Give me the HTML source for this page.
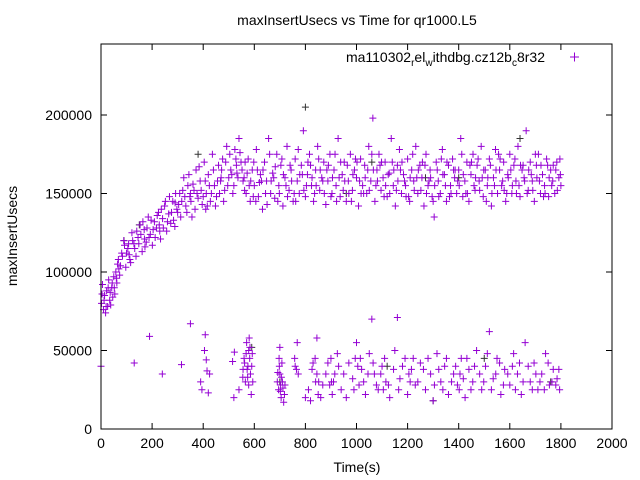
<!DOCTYPE html>
<html><head><meta charset="utf-8"><style>
body{margin:0;background:#fff}
svg{font-family:"Liberation Sans",sans-serif;display:block}
</style></head><body>
<svg id="chart" width="640" height="480">
<text x="357" y="25" font-size="14" text-anchor="middle">maxInsertUsecs vs Time for qr1000.L5</text>
<text x="357" y="472" font-size="14" text-anchor="middle">Time(s)</text>
<text x="17" y="236" font-size="14" text-anchor="middle" transform="rotate(-90 17 236)">maxInsertUsecs</text>
<g id="axes"></g>
<g id="marks"></g>
<g>
<text x="545" y="62" font-size="14" text-anchor="end">ma110302<tspan font-size="10" dy="4">r</tspan><tspan dy="-4">el</tspan><tspan font-size="10" dy="4">w</tspan><tspan dy="-4">ithdbg.cz12b</tspan><tspan font-size="10" dy="4">c</tspan><tspan dy="-4">8r32</tspan></text>
<path d="M570 57h9M574.5 52.5v9" stroke="#9400d3" stroke-width="1"/>
</g>
<rect x="101" y="44" width="511" height="385" fill="none" stroke="#000" stroke-width="1"/>
</svg>
<script>
const xTicks=[0,200,400,600,800,1000,1200,1400,1600,1800,2000];
const yTicks=[0,50000,100000,150000,200000];
const rampPts=[[2,80],[6,92],[10,76],[14,85],[18,74],[22,88],[26,78],[30,95],[34,82],[38,79],[42,90],[46,84],[50,97],[54,86],[58,100],[62,93],[65,105],[73,98],[81,112],[89,120],[97,103],[105,115],[113,108],[121,125],[129,118],[137,110],[145,122],[153,130],[161,113],[169,127],[177,119],[185,135],[193,124],[201,117],[209,132],[217,128],[225,138],[233,121],[241,134],[249,142],[257,126],[265,137],[273,131],[281,145],[289,129],[297,140],[300,138],[308,150],[316,145],[324,160],[332,142],[340,155],[348,148],[356,135],[364,152],[372,165],[380,147],[388,158],[396,143],[404,170],[412,150],[420,162],[428,145],[436,175],[444,155],[452,148],[460,168],[468,158],[476,172],[484,152],[492,180],[500,160],[508,165],[516,150],[524,178],[532,163],[540,185],[548,170],[556,158],[70,102],[110,111],[170,121],[230,126],[290,144],[350,150],[410,140],[470,160],[530,168]];
const ramp2Pts=[[4,86],[12,82],[20,78],[28,90],[36,87],[44,93],[52,90],[60,96],[68,108],[76,104],[84,110],[92,117],[100,112],[108,118],[116,106],[124,120],[132,115],[140,126],[148,118],[156,124],[164,132],[172,116],[180,128],[188,122],[196,133],[204,127],[212,122],[220,136],[228,130],[236,140],[244,128],[252,145],[260,132],[268,148],[276,138],[284,133],[292,150],[304,143],[312,135],[320,152],[328,148],[336,138],[344,162],[352,145],[360,156],[368,140],[376,150],[384,167],[392,152],[400,148],[408,158],[416,142],[424,155],[432,150],[440,165],[448,142],[456,158],[464,150],[472,165],[480,145],[488,170],[496,155],[504,175],[512,162],[520,155],[528,172],[536,160],[544,176],[552,165]];
const bandPts=[[560,160],[568,150],[576,172],[584,145],[592,165],[600,155],[608,178],[616,148],[624,162],[632,140],[640,170],[648,158],[656,185],[664,150],[672,163],[680,147],[688,175],[696,155],[704,168],[712,142],[720,160],[728,180],[736,152],[744,165],[752,145],[760,172],[768,158],[776,150],[784,168],[792,190],[800,148],[808,162],[816,175],[824,155],[832,145],[840,165],[848,180],[856,152],[864,160],[872,170],[880,143],[888,158],[896,175],[904,150],[912,165],[920,155],[928,185],[936,148],[944,162],[952,170],[960,145],[968,158],[976,175],[984,152],[992,165],[1000,160],[1008,142],[1016,172],[1024,155],[1032,168],[1040,150],[1048,180],[1056,158],[1064,198],[1072,145],[1080,165],[1088,175],[1096,152],[1104,160],[1112,170],[1120,148],[1128,163],[1136,185],[1144,155],[1152,142],[1160,168],[1168,178],[1176,150],[1184,162],[1192,155],[1200,172],[1208,145],[1216,165],[1224,158],[1232,180],[1240,150],[1248,168],[1256,160],[1264,142],[1272,175],[1280,155],[1288,165],[1296,148],[1304,135],[1312,170],[1320,158],[1328,150],[1336,178],[1344,162],[1352,145],[1360,168],[1368,155],[1376,172],[1384,160],[1392,150],[1400,165],[1408,185],[1416,148],[1424,158],[1432,170],[1440,145],[1448,162],[1456,175],[1464,152],[1472,168],[1480,158],[1488,180],[1496,148],[1504,165],[1512,155],[1520,172],[1528,142],[1536,160],[1544,178],[1552,150],[1560,165],[1568,155],[1576,170],[1584,145],[1592,162],[1600,175],[1608,150],[1616,168],[1624,158],[1632,180],[1640,148],[1648,165],[1656,160],[1664,190],[1672,152],[1680,170],[1688,158],[1696,145],[1704,168],[1712,175],[1720,150],[1728,162],[1736,155],[1744,172],[1752,148],[1760,165],[1768,158],[1776,150],[1784,170],[1792,160],[1800,155]];
const band2Pts=[[564,170],[580,155],[596,148],[612,165],[628,158],[644,150],[660,175],[676,160],[692,145],[708,172],[724,155],[740,168],[756,150],[772,178],[788,162],[804,155],[820,168],[836,150],[852,172],[868,158],[884,165],[900,148],[916,175],[932,160],[948,152],[964,168],[980,145],[996,172],[1012,158],[1028,150],[1044,165],[1060,175],[1076,155],[1092,168],[1108,148],[1124,162],[1140,170],[1156,152],[1172,165],[1188,158],[1204,148],[1220,175],[1236,160],[1252,152],[1268,168],[1284,158],[1300,145],[1316,165],[1332,172],[1348,155],[1364,148],[1380,165],[1396,158],[1412,175],[1428,150],[1444,168],[1460,155],[1476,172],[1492,160],[1508,145],[1524,168],[1540,155],[1556,175],[1572,158],[1588,150],[1604,165],[1620,172],[1636,155],[1652,168],[1668,150],[1684,162],[1700,175],[1716,158],[1732,148],[1748,168],[1764,155],[1780,165],[1796,172]];
const band3Pts=[[562,152],[572,163],[586,158],[598,170],[606,145],[620,157],[634,165],[650,143],[666,158],[682,167],[698,150],[714,162],[730,148],[746,158],[762,145],[778,162],[794,152],[810,170],[826,160],[842,155],[858,165],[874,150],[890,168],[906,160],[922,145],[938,170],[954,158],[970,150],[986,162],[1002,170],[1018,150],[1034,160],[1050,152],[1066,165],[1082,158],[1098,170],[1114,155],[1130,150],[1146,165],[1162,158],[1178,170],[1194,148],[1210,160],[1226,152],[1242,165],[1258,170],[1274,150],[1290,160],[1306,155],[1322,148],[1338,162],[1354,170],[1370,150],[1386,165],[1402,155],[1418,162],[1434,150],[1450,170],[1466,160],[1482,152],[1498,165],[1514,160],[1530,150],[1546,165],[1562,172],[1578,152],[1594,160],[1610,155],[1626,150],[1642,168],[1658,158],[1674,165],[1690,152],[1706,160],[1722,168],[1738,150],[1754,160],[1770,168],[1786,152],[1798,162]];
const lowPts=[[0,40],[130,42],[190,59],[240,35],[315,41],[350,67],[390,30],[395,25],[405,50],[408,60],[412,44],[415,37],[420,23],[425,35],[515,43],[520,20],[522,49],[540,25],[555,33],[560,45],[565,30],[570,55],[575,40],[580,58],[585,35],[588,22],[592,48],[690,30],[695,25],[700,35],[705,20],[710,30],[715,17],[700,52],[708,42],[720,28],[760,40],[765,38],[768,55],[800,20],[820,18],[830,42],[840,30],[845,58],[850,22],[860,20],[880,35],[895,28],[900,45],[905,22],[915,35],[930,40],[940,25],[960,20],[985,32],[995,45],[1000,55],[1010,28],[1020,38],[1035,22],[1050,48],[1060,70],[1070,35],[1085,25],[1100,40],[1115,30],[1130,20],[1150,50],[1160,71],[1170,32],[1190,45],[1200,22],[1215,38],[1230,28],[1250,42],[1270,25],[1290,35],[1300,18],[1315,48],[1330,30],[1345,40],[1360,22],[1380,35],[1395,28],[1410,45],[1425,20],[1440,38],[1455,30],[1470,50],[1490,25],[1505,40],[1520,62],[1535,32],[1550,45],[1565,22],[1580,38],[1600,28],[1615,48],[1630,35],[1645,22],[1660,55],[1680,30],[1695,42],[1710,25],[1725,35],[1740,48],[1755,28],[1770,38],[1785,32],[1795,25],[578,50],[582,45],[572,38],[698,40],[703,28],[845,35],[902,30],[1005,40],[1105,25],[1210,30],[1405,35],[1610,40]];
const low2Pts=[[556,38],[562,42],[568,48],[574,33],[578,28],[583,52],[590,40],[594,30],[692,36],[697,45],[702,24],[706,33],[712,26],[718,22],[758,45],[772,35],[812,25],[826,38],[838,45],[852,30],[868,28],[888,42],[910,30],[925,48],[950,35],[970,42],[990,25],[1015,45],[1028,30],[1045,35],[1065,42],[1078,28],[1095,35],[1110,45],[1125,28],[1145,38],[1165,25],[1180,40],[1205,35],[1222,45],[1240,30],[1262,38],[1280,45],[1305,28],[1322,38],[1338,25],[1352,45],[1372,30],[1388,40],[1402,25],[1418,32],[1432,45],[1448,25],[1462,40],[1482,35],[1498,30],[1512,48],[1528,25],[1545,35],[1560,42],[1575,28],[1592,35],[1622,25],[1638,42],[1652,30],[1672,40],[1688,25],[1702,35],[1718,30],[1735,25],[1750,42],[1765,30],[1780,28],[1792,38]];
const darkPts=[[90,120],[150,130],[380,175],[800,205],[1060,170],[1270,160],[1640,185],[1300,18],[1120,40],[590,52],[700,30],[1500,45],[1760,30],[1400,160],[960,150]];
const X0=101,X1=612,Y0=429,Yper=314/200000;
function sx(t){return X0+(X1-X0)*t/2000;}
function sy(v){return Y0-v*Yper;}
const NS='http://www.w3.org/2000/svg';
const axes=document.getElementById('axes'),marks=document.getElementById('marks');
xTicks.forEach(t=>{const x=sx(t);
 const p=document.createElementNS(NS,'path');p.setAttribute('d',`M${x} 429v-6M${x} 44v6`);p.setAttribute('stroke','#000');
 
 
 axes.appendChild(p);
 const tx=document.createElementNS(NS,'text');tx.setAttribute('x',x);tx.setAttribute('y',448);tx.setAttribute('font-size','14');tx.setAttribute('text-anchor','middle');tx.textContent=t;
 
 
 axes.appendChild(tx);});
yTicks.forEach(v=>{const y=sy(v);
 const p=document.createElementNS(NS,'path');p.setAttribute('d',`M101 ${y}h6M612 ${y}h-6`);p.setAttribute('stroke','#000');
 
 
 axes.appendChild(p);
 const tx=document.createElementNS(NS,'text');tx.setAttribute('x',92);tx.setAttribute('y',y+5);tx.setAttribute('font-size','14');tx.setAttribute('text-anchor','end');tx.textContent=v;
 
 
 axes.appendChild(tx);});
function draw(pts,color){let d='';pts.forEach(([t,v])=>{const x=sx(t),y=sy(v*1000);d+=`M${x-3.5} ${y}h7M${x} ${y-3.5}v7`;});
 const p=document.createElementNS(NS,'path');p.setAttribute('d',d);p.setAttribute('stroke',color);p.setAttribute('stroke-width','1');p.setAttribute('fill','none');
 
 
 marks.appendChild(p);}
draw(darkPts,'#333');
draw(rampPts,'#9400d3');draw(ramp2Pts,'#9400d3');draw(bandPts,'#9400d3');draw(band2Pts,'#9400d3');draw(band3Pts,'#9400d3');draw(lowPts,'#9400d3');draw(low2Pts,'#9400d3');
</script>
</body></html>
